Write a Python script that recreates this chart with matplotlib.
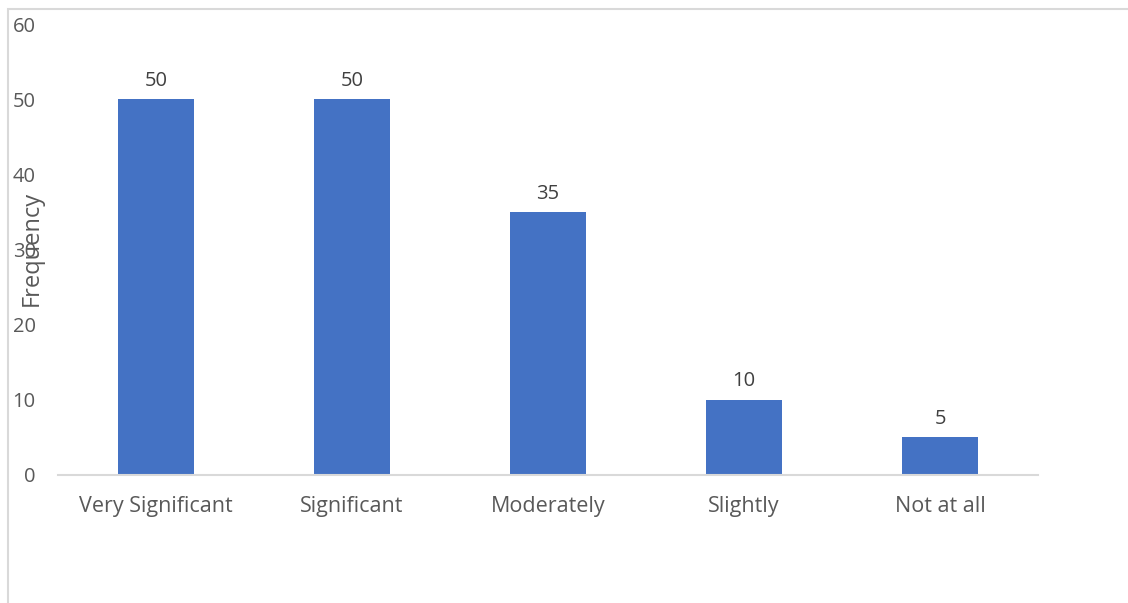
import matplotlib.pyplot as plt
from matplotlib.patches import Rectangle

categories = ["Very Significant", "Significant", "Moderately", "Slightly", "Not at all"]
frequency = [50, 50, 35, 10, 5]
y_ticks = [0, 10, 20, 30, 40, 50, 60]

plt.rcParams['font.family'] = ['Open Sans', 'DejaVu Sans']

fig = plt.figure(figsize=(11.28, 6.03), dpi=100)
ax = fig.add_axes([58 / 1128, 1 - 475 / 603, 980 / 1128, 451 / 603])

# light frame around the chart area
fig.patches.append(Rectangle((8 / 1128, -0.05), 1.1, 1 - 9 / 603 + 0.05,
                             transform=fig.transFigure, fill=False,
                             edgecolor='#d9d9d9', linewidth=1.5))

x = list(range(len(categories)))
bars = ax.bar(x, frequency, width=0.39, color='#4472c4')
for b, v in zip(bars, frequency):
    ax.annotate(str(v), (b.get_x() + b.get_width() / 2, v), xytext=(0, 6),
                textcoords='offset points', ha='center', va='bottom',
                fontsize=14.5, color='#404040')

ax.set_xlim(-0.5, len(categories) - 0.5)
ax.set_ylim(0, 60)
ax.set_yticks(y_ticks)
ax.set_xticks(x)
ax.set_xticklabels(categories, fontsize=15.5)
ax.tick_params(axis='both', length=0, labelcolor='#595959')
ax.tick_params(axis='y', pad=16, labelsize=14.5)
ax.tick_params(axis='x', pad=15)

for s in ['top', 'right', 'left']:
    ax.spines[s].set_visible(False)
ax.spines['bottom'].set_color('#d9d9d9')
ax.spines['bottom'].set_linewidth(1.5)

fig.text(32 / 1128, 1 - 248 / 603, "Frequency", rotation=90, ha='center',
         va='center', fontsize=17, color='#595959')

fig.savefig('out.png', dpi=100)
